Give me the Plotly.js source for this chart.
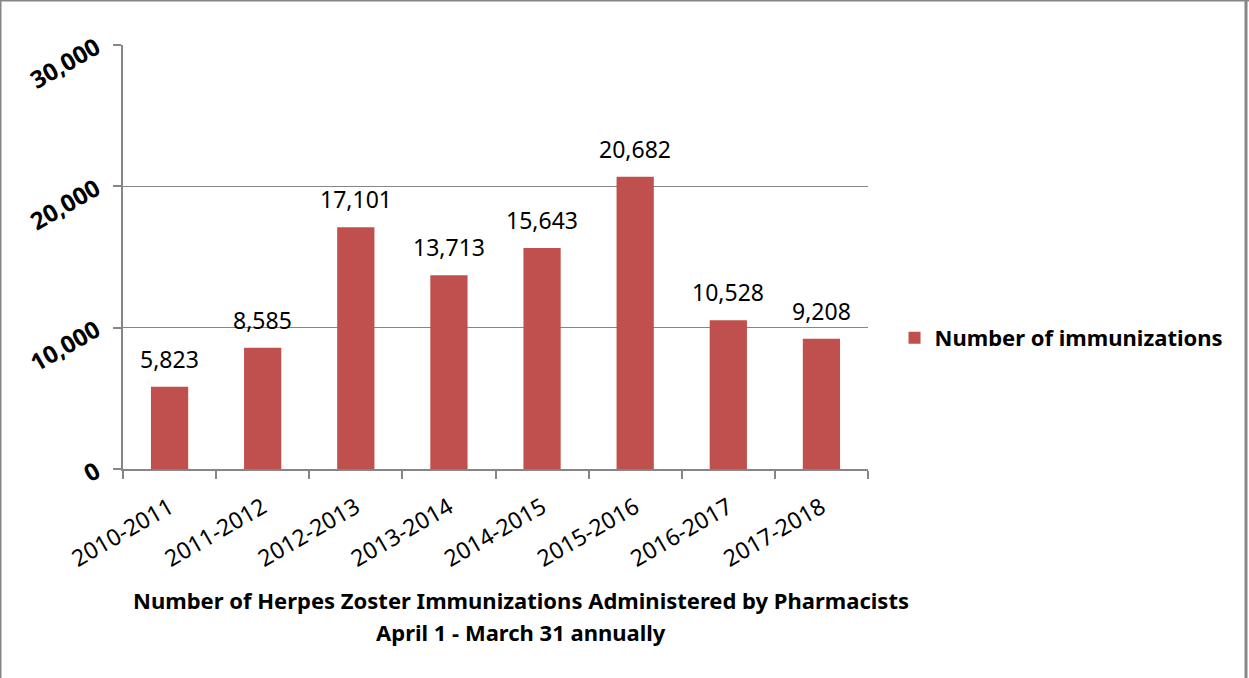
<!DOCTYPE html>
<html><head><meta charset="utf-8">
<script src="https://cdn.plot.ly/plotly-3.0.1.min.js"></script>
<style>html,body{margin:0;padding:0;background:#fff}#chart{width:1249px;height:678px}</style>
</head><body><div id="chart"></div>
<script>
const categories = ["2010-2011","2011-2012","2012-2013","2013-2014","2014-2015","2015-2016","2016-2017","2017-2018"];
const values = [5823, 8585, 17101, 13713, 15643, 20682, 10528, 9208];
const seriesName = "Number of immunizations";
const yTickVals = [0, 10000, 20000, 30000];
const yTickText = ["0", "10,000", "20,000", "30,000"];
const titleLines = ["Number of Herpes Zoster Immunizations Administered by Pharmacists", "April 1 - March 31 annually"];

const FONT = "Noto Sans, sans-serif";
const fmt = v => v.toLocaleString("en-US");

const trace = {
  type: "bar", x: categories, y: values, name: seriesName,
  marker: {color: "#C0504D"}, showlegend: true
};

const labelAnns = categories.map((c, i) => ({
  x: c, y: values[i], xref: "x", yref: "y", text: fmt(values[i]),
  showarrow: false, yanchor: "bottom", yshift: 10,
  font: {family: FONT, size: 23, color: "#000"}
}));

const titleYs = [-0.309, -0.3844];
const titleAnns = titleLines.map((t, i) => ({
  x: 0.534, y: titleYs[i], xref: "paper", yref: "paper", text: "<b>" + t + "</b>",
  showarrow: false, xanchor: "center", yanchor: "middle",
  font: {family: FONT, size: 22, color: "#000"}
}));

const layout = {
  width: 1249, height: 678,
  margin: {l: 123, r: 381, t: 45, b: 209},
  paper_bgcolor: "#fff", plot_bgcolor: "#fff",
  font: {family: FONT, color: "#000"},
  bargap: 0.6,
  xaxis: {
    type: "category", showline: true, linecolor: "#868686", linewidth: 2,
    ticks: "outside", tickson: "boundaries", ticklen: 8, tickwidth: 2, tickcolor: "#868686",
    tickangle: -30, tickfont: {family: FONT, size: 23, color: "#000"},
    ticklabelstandoff: 14,
    showgrid: false, fixedrange: true
  },
  yaxis: {
    range: [0, 30000], tickvals: yTickVals, ticktext: yTickText,
    showline: true, linecolor: "#868686", linewidth: 2,
    ticks: "outside", ticklen: 8, tickwidth: 2, tickcolor: "#868686",
    showgrid: true, gridcolor: "#868686", gridwidth: 1.5,
    tickangle: -30, tickfont: {family: FONT, size: 24, color: "#000", weight: "bold"},
    ticklabelstandoff: 12, zeroline: false, fixedrange: true
  },
  legend: {
    x: 1.0356, y: 0.309, xanchor: "left", yanchor: "middle",
    font: {family: FONT, size: 22, color: "#000", weight: "bold"},
    bgcolor: "rgba(0,0,0,0)", itemwidth: 30
  },
  annotations: labelAnns.concat(titleAnns),
  shapes: [
    {type: "line", xref: "paper", yref: "paper", x0: -123/745, x1: -123/745, y0: -209/424, y1: 45/424 + 1, line: {color: "#868686", width: 3}},
    {type: "line", xref: "paper", yref: "paper", x0: -123/745, x1: 1 + 381/745, y0: 1 + 45/424, y1: 1 + 45/424, line: {color: "#868686", width: 3}},
    {type: "line", xref: "paper", yref: "paper", x0: 1 + 378/745, x1: 1 + 378/745, y0: -209/424, y1: 1 + 45/424, line: {color: "#868686", width: 3}}
  ]
};

Plotly.newPlot("chart", [trace], layout, {displayModeBar: false, staticPlot: true});
</script></body></html>
